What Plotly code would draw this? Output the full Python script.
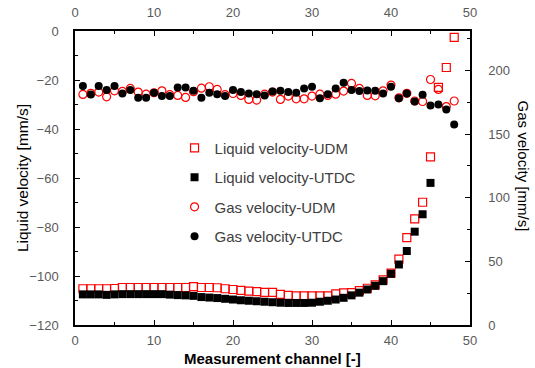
import plotly.graph_objects as go

channels = list(range(1, 49))
channels_utdc = list(range(1, 46))

liquid_udm = [-105.2, -105.2, -105.2, -105.2, -105.1, -104.7, -104.7, -104.7, -104.7, -104.7,
              -104.7, -104.7, -104.7, -104.7, -104.3, -104.7, -104.7, -104.8, -105.2, -105.5,
              -105.9, -106.2, -106.4, -106.7, -106.7, -107.5, -107.9, -108.1, -108.1, -108.1,
              -108.1, -108.1, -107.3, -106.9, -106.8, -106.0, -105.0, -103.6, -101.6, -98.8,
              -93.1, -84.3, -76.7, -69.9, -51.4, -23.0, -14.9, -2.6]

liquid_utdc = [-107.5, -107.5, -107.5, -107.7, -107.5, -107.4, -107.4, -107.4, -107.4, -107.4,
               -107.4, -107.6, -107.8, -107.9, -108.1, -108.6, -108.8, -109.0, -109.3, -109.6,
               -109.9, -110.1, -110.3, -110.5, -110.7, -110.9, -111.0, -111.0, -111.0, -110.9,
               -110.5, -110.1, -109.6, -108.9, -107.9, -106.8, -105.5, -104.0, -102.1, -99.1,
               -95.3, -89.8, -81.9, -74.8, -62.0]

gas_udm = [181.2, 182.0, 183.0, 179.3, 184.0, 183.5, 185.9, 183.0, 181.4, 182.5,
           184.0, 181.0, 180.4, 178.8, 183.3, 186.1, 187.2, 185.1, 181.0, 181.9,
           180.4, 177.2, 176.7, 181.4, 183.0, 177.2, 179.9, 177.7, 177.7, 179.9,
           181.4, 180.4, 181.4, 183.8, 189.8, 185.9, 180.4, 180.1, 184.0, 188.5,
           178.5, 182.0, 176.0, 175.6, 192.9, 185.1, 171.6, 176.0]

gas_utdc = [187.7, 181.2, 187.7, 184.6, 187.7, 181.9, 184.6, 178.5, 178.5, 182.5,
            179.9, 179.9, 186.6, 186.6, 184.0, 178.5, 182.5, 181.4, 179.9, 184.6,
            183.0, 181.9, 181.4, 180.4, 183.5, 184.0, 183.0, 182.5, 185.9, 187.2,
            178.2, 181.4, 185.9, 190.3, 184.6, 183.8, 184.3, 184.0, 181.9, 187.2,
            178.2, 181.9, 175.6, 180.9, 172.5, 173.3, 169.3, 157.5]

RED = "#FF0000"
TICKC = "#595959"
FONT = "Liberation Sans"

fig = go.Figure()
fig.add_trace(go.Scatter(x=channels, y=liquid_udm, mode="markers", name="Liquid velocity-UDM",
                         legendgroup="a",
                         marker=dict(symbol="square-open", size=8, color=RED, line=dict(width=1.2, color=RED))))
fig.add_trace(go.Scatter(x=channels_utdc, y=liquid_utdc, mode="markers", name="Liquid velocity-UTDC",
                         legendgroup="b",
                         marker=dict(symbol="square", size=8, color="black")))
fig.add_trace(go.Scatter(x=channels, y=gas_udm, mode="markers", name="Gas velocity-UDM",
                         legendgroup="c", xaxis="x2", yaxis="y2",
                         marker=dict(symbol="circle-open", size=8, color=RED, line=dict(width=1.2, color=RED))))
fig.add_trace(go.Scatter(x=channels, y=gas_utdc, mode="markers", name="Gas velocity-UTDC",
                         legendgroup="d", xaxis="x2", yaxis="y2",
                         marker=dict(symbol="circle", size=8, color="black")))

common = dict(showgrid=False, zeroline=False, showline=True, linecolor="black", linewidth=1.5,
              ticks="inside", ticklen=5, tickcolor="black", tickwidth=1.2, automargin=False,
              tickfont=dict(family=FONT, size=13, color=TICKC))

fig.update_layout(
    width=535, height=368,
    margin=dict(l=75, r=65, t=31, b=43),
    paper_bgcolor="white", plot_bgcolor="white",
    showlegend=True,
    legend=dict(x=0.252, y=0.658, xanchor="left", yanchor="top",
                traceorder="grouped", tracegroupgap=7,
                font=dict(family=FONT, size=15, color="#404040"),
                bgcolor="rgba(0,0,0,0)", itemwidth=30),
    xaxis=dict(range=[0, 50], dtick=10, tick0=0,
               minor=dict(dtick=5, ticks="inside", ticklen=3, tickcolor="black"),
               ticklabelstandoff=3, **common),
    xaxis2=dict(range=[0, 50], dtick=10, tick0=0, overlaying="x", side="top", anchor="y",
                minor=dict(dtick=5, ticks="inside", ticklen=3, tickcolor="black"),
                ticklabelstandoff=7, **common),
    yaxis=dict(range=[-120, 0], dtick=20, tick0=0,
               minor=dict(dtick=10, ticks="inside", ticklen=3, tickcolor="black"),
               ticklabelstandoff=12, **common),
    yaxis2=dict(range=[0, 231], dtick=50, tick0=0, overlaying="y", side="right", anchor="x2",
                minor=dict(dtick=25, ticks="inside", ticklen=3, tickcolor="black"),
                ticklabelstandoff=14, **common),
    annotations=[
        dict(text="Liquid velocity [mm/s]", xref="paper", yref="paper", x=-0.134, y=0.5,
             xanchor="center", yanchor="middle", textangle=-90, showarrow=False,
             font=dict(family=FONT, size=15.5, color="black")),
        dict(text="Gas velocity [mm/s]", xref="paper", yref="paper", x=1.136, y=0.54,
             xanchor="center", yanchor="middle", textangle=90, showarrow=False,
             font=dict(family=FONT, size=15, color="black")),
        dict(text="<b>Measurement channel [-]</b>", xref="paper", yref="paper", x=0.501, y=-0.115,
             xanchor="center", yanchor="middle", showarrow=False,
             font=dict(family=FONT, size=15, color="black")),
    ],
)

fig.write_html("out.html")
